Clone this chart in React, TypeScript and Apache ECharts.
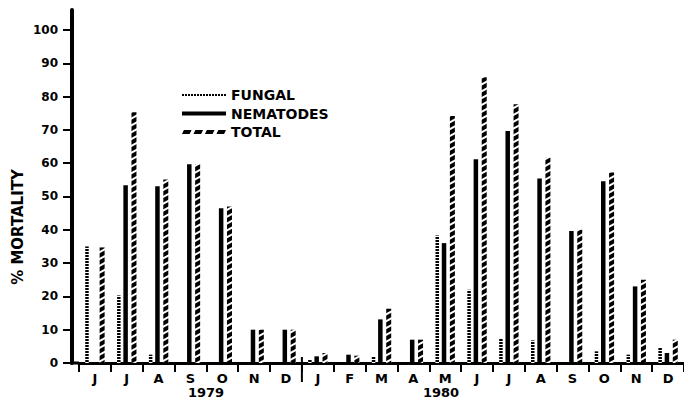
import React, { useEffect, useRef } from "react";
import * as echarts from "echarts";

// Months from June 1979 to December 1980
const months = ["J", "J", "A", "S", "O", "N", "D", "J", "F", "M", "A", "M", "J", "J", "A", "S", "O", "N", "D"];
const fungal = [35, 20.3, 2.5, 0, 0, 0, 0, 1.2, 0, 1.8, 0, 38.3, 22, 7.2, 6.8, 0, 3.5, 2.5, 4.8];
const nematodes = [0, 53.4, 53.1, 59.7, 46.5, 10, 10, 2, 2.5, 13.1, 7, 36, 61.2, 69.7, 55.4, 39.6, 54.6, 23, 3];
const total = [34.7, 75.3, 55.1, 59.7, 47, 10, 10, 3, 2.2, 16.3, 7, 74.2, 85.8, 77.7, 61.6, 40, 57.2, 25, 7];
const yTicks = [0, 10, 20, 30, 40, 50, 60, 70, 80, 90, 100];
const seriesNames = ["FUNGAL", "NEMATODES", "TOTAL"];
const years = ["1979", "1980"];

const FONT = "DejaVu Sans";

function makeIcons() {
  let fungalIcon = "path://";
  for (let i = 0; i < 15; i++) fungalIcon += `M${i * 3},0h2v2h-2z`;
  const nemIcon = "path://M0,0h44v4h-44z";
  let totalIcon = "path://";
  for (let i = 0; i < 4; i++) {
    const x0 = i * 12;
    totalIcon += `M${x0},4L${x0 + 2},0h8L${x0 + 8},4z`;
  }
  return [fungalIcon, nemIcon, totalIcon];
}

export default function App() {
  const ref = useRef<HTMLDivElement>(null);
  useEffect(() => {
    if (!ref.current) return;
    const chart = echarts.init(ref.current, null, { renderer: "svg" });
    const icons = makeIcons();
    const labelStyle = { fontFamily: FONT, fontWeight: "bold" as const, color: "#000" };
    const gridLeft = 79;
    const option: any = {
      animation: false,
      backgroundColor: "#fff",
      grid: { left: gridLeft, top: 10, width: 610, height: 353, containLabel: false },
      legend: {
        orient: "vertical",
        left: 182,
        top: 88,
        padding: 0,
        itemWidth: 44,
        itemHeight: 4,
        itemGap: 4.5,
        textStyle: { ...labelStyle, fontSize: 14 },
        data: seriesNames.map((n, i) => ({
          name: n,
          icon: icons[i],
          itemStyle: { color: "#000", decal: "none", borderWidth: 0 },
        })),
      },
      xAxis: {
        type: "category",
        data: months,
        axisLine: { lineStyle: { color: "#000", width: 3 } },
        axisTick: { show: true, length: 9, lineStyle: { color: "#000", width: 2 } },
        axisLabel: { ...labelStyle, fontSize: 13, margin: 9, interval: 0 },
        splitLine: { show: false },
      },
      yAxis: {
        type: "value",
        min: 0,
        max: 106,
        offset: 7,
        axisLine: { show: true, lineStyle: { color: "#000", width: 4 } },
        axisTick: { show: true, length: 9, customValues: yTicks, lineStyle: { color: "#000", width: 2 } },
        axisLabel: { ...labelStyle, fontSize: 12, margin: 14, customValues: yTicks },
        splitLine: { show: false },
      },
      series: [
        {
          name: seriesNames[0],
          type: "bar",
          data: fungal,
          barWidth: 3.5,
          barGap: "80%",
          itemStyle: {
            color: "#fff",
            decal: { symbol: "rect", symbolSize: 1, color: "#000", dashArrayX: [8, 0], dashArrayY: [1.2, 1], rotation: 0 },
          },
        },
        {
          name: seriesNames[1],
          type: "bar",
          data: nematodes,
          barWidth: 4.5,
          barGap: "80%",
          itemStyle: { color: "#000" },
        },
        {
          name: seriesNames[2],
          type: "bar",
          data: total,
          barWidth: 5,
          barGap: "80%",
          itemStyle: {
            color: "#fff",
            decal: { symbol: "rect", symbolSize: 1, color: "#000", dashArrayX: [8, 0], dashArrayY: [3.5, 2], rotation: -0.5 },
          },
        },
      ],
    };
    chart.setOption(option);

    const x6 = chart.convertToPixel({ xAxisIndex: 0 }, 6) as number;
    const x7 = chart.convertToPixel({ xAxisIndex: 0 }, 7) as number;
    const sepX = (x6 + x7) / 2;
    const y0 = chart.convertToPixel({ yAxisIndex: 0 }, 0) as number;

    chart.setOption({
      graphic: [
        {
          type: "line",
          shape: { x1: gridLeft - 9, y1: y0, x2: gridLeft, y2: y0 },
          style: { stroke: "#000", lineWidth: 3 },
        },
        {
          type: "line",
          shape: { x1: sepX, y1: y0 - 6, x2: sepX, y2: y0 + 19 },
          style: { stroke: "#000", lineWidth: 2 },
        },
        {
          type: "text",
          x: 206,
          y: 392,
          style: { text: years[0], ...labelStyle, fill: "#000", fontSize: 13, align: "center", verticalAlign: "middle" },
        },
        {
          type: "text",
          x: 441,
          y: 392,
          style: { text: years[1], ...labelStyle, fill: "#000", fontSize: 13, align: "center", verticalAlign: "middle" },
        },
        {
          type: "text",
          x: 18,
          y: 227,
          rotation: Math.PI / 2,
          style: { text: "% MORTALITY", ...labelStyle, fill: "#000", fontSize: 15, align: "center", verticalAlign: "middle" },
        },
      ],
    });

    return () => chart.dispose();
  }, []);
  return <div ref={ref} style={{ position: "absolute", left: 0, top: 0, width: 684, height: 399 }} />;
}
